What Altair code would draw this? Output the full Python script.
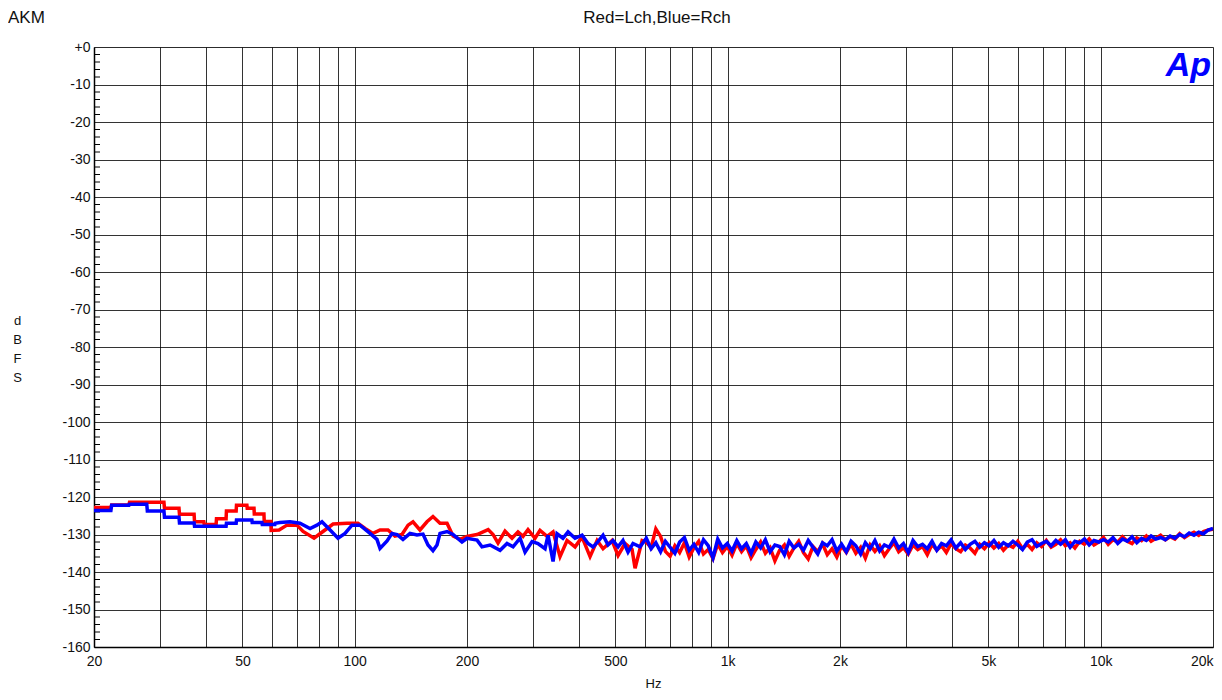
import altair as alt
import pandas as pd
import numpy as np

FONT = "Liberation Sans"

# ---------------- data ----------------
# Low-frequency part (read point by point), Hz / dBFS
red_lo_f = [20, 22.2, 22.3, 24.8, 24.9, 30.8, 30.9, 33.8, 33.9, 37.1, 37.2, 39.4, 39.5,
            42.5, 42.6, 45.2, 45.3, 48.1, 48.2, 51.4, 51.5, 53.7, 53.8, 57.1, 57.2, 59.6,
            59.7, 62.7, 65.8, 70.0, 72.7, 77.8, 82.2, 87.5, 95.4, 102, 106.6, 112, 116.9,
            122.8, 128.2, 133.9, 139.0, 143.3, 149.6, 156.2, 162.1, 169.3, 176.8, 183.5,
            191.5, 200, 212.8, 227.9, 234.9, 242.2, 252.9, 264.1, 274.0, 282.6, 291.5,
            304.4, 313.9, 327.8, 340.2, 355.2, 370.9, 389.7, 406.9, 427.5, 446.5, 463.2,
            489.7, 508.2, 530.6, 554.0, 564.4, 589.5]
red_lo_db = [-122.8, -122.8, -122.1, -122.1, -121.4, -121.4, -123.0, -123.0, -124.6, -124.6,
             -126.6, -126.6, -127.3, -127.3, -125.8, -125.8, -123.7, -123.7, -122.2, -122.2,
             -123.0, -123.0, -124.5, -124.5, -126.5, -126.5, -128.9, -128.8, -127.5, -127.5,
             -129.2, -131.0, -129.2, -127.2, -127.0, -127.0, -128.4, -129.7, -128.8, -128.8,
             -130.4, -130.0, -127.5, -126.6, -128.8, -126.6, -125.2, -127.0, -127.0, -130.4,
             -131.3, -130.5, -130.0, -128.7, -130.0, -132.3, -129.1, -131.0, -129.3, -130.5,
             -128.7, -131.0, -128.9, -130.5, -129.3, -135.9, -131.6, -133.3, -130.7, -135.9,
             -131.6, -133.8, -131.6, -135.6, -132.4, -134.0, -139.0, -131.6]

blue_lo_f = [20, 22.2, 22.3, 24.8, 24.9, 27.7, 27.8, 30.8, 30.9, 33.8, 33.9, 37.1, 37.2,
             45.2, 45.3, 48.1, 48.2, 53.0, 53.1, 56.4, 56.5, 61.1, 61.2, 63.0, 67.1, 71.3,
             75.9, 79.2, 81.7, 85.9, 90.2, 94.2, 98.3, 103.3, 109.9, 114.7, 116.9, 122.1,
             125.9, 129.8, 134.7, 140.7, 146.9, 152.4, 157.2, 162.1, 166.2, 169.3, 176.8,
             183.5, 193.9, 200, 212.8, 219.4, 230.6, 245.3, 256.1, 265.8, 277.5, 286.2,
             298.9, 310.0, 323.8, 329.9, 340.2, 348.6, 361.6, 373.2, 389.7, 406.9, 422.2,
             435.4, 449.0, 463.2, 477.6, 492.5, 508.2, 523.8, 540.4, 557.2, 582.0]
blue_lo_db = [-123.6, -123.6, -122.2, -122.2, -121.9, -121.9, -123.7, -123.7, -125.4, -125.4,
              -126.9, -126.9, -127.8, -127.8, -127.0, -127.0, -126.1, -126.1, -126.8, -126.8,
              -127.3, -127.3, -127.0, -126.8, -126.6, -127.0, -128.4, -127.5, -126.6, -128.8,
              -131.0, -129.7, -127.5, -127.5, -129.7, -131.3, -133.7, -131.7, -129.7, -130.0,
              -131.3, -129.7, -130.1, -129.9, -132.8, -134.3, -132.8, -129.7, -129.2, -130.0,
              -132.0, -131.0, -131.5, -133.3, -132.8, -134.2, -132.4, -133.3, -131.0, -134.7,
              -131.9, -132.4, -133.8, -130.2, -137.2, -129.8, -131.0, -129.3, -131.0, -130.2,
              -132.4, -133.3, -131.9, -130.2, -132.8, -131.6, -133.3, -131.6, -134.7, -132.4,
              -133.3]

# High-frequency part: values read across 605 Hz .. 20 kHz (log-spaced sampling)
red_hi_db = [-132.0, -133.5, -128.5, -130.5, -134.5, -135.8, -133.0, -134.8, -132.2, -136.0,
             -133.5, -131.8, -135.2, -134.0, -136.4, -132.5, -134.8, -133.2,
             -135.5, -132.4, -134.6, -133.0, -136.2, -134.0, -132.0, -135.0, -133.5, -137.0,
             -134.2, -132.8, -135.8, -133.6, -131.8, -134.8, -136.5, -133.2, -134.6, -132.5,
             -135.4, -133.8, -136.0, -133.0,
             -134.8, -132.6, -135.0, -133.4, -136.3, -132.8, -134.5, -133.0, -135.6, -133.8,
             -132.2, -134.6, -133.5, -135.2, -132.8, -134.0, -133.2, -135.4, -132.6, -134.2,
             -133.0, -134.8, -132.4, -133.8, -134.6, -132.8, -133.6, -135.0, -132.6, -133.8,
             -132.2,
             -133.6, -132.4, -134.2, -132.8, -133.4, -131.8, -133.8, -132.6, -134.0, -132.2,
             -133.2, -131.6, -133.4, -132.6, -131.4, -133.0, -132.2, -133.6, -131.8, -132.6,
             -131.2, -132.8, -132.0,
             -130.8, -132.6, -131.4, -132.0, -130.6, -131.8, -132.4, -130.9, -131.6, -130.4,
             -131.8, -131.0, -130.2, -131.4,
             -130.6, -131.2, -129.8, -130.8, -130.0, -129.4, -130.2, -129.2, -128.8, -128.6]
blue_hi_db = [-131.0, -133.8, -132.2, -134.6, -131.8, -133.4, -135.0, -132.0, -130.8, -134.2,
              -132.6, -134.8, -131.4, -133.0, -136.2, -131.2, -133.6, -132.4,
              -134.4, -131.6, -133.8, -132.4, -135.0, -132.0, -133.6, -131.4, -134.6, -132.8,
              -133.2, -135.4, -131.8, -133.6, -132.6, -134.2, -131.6, -133.4, -135.2, -132.2,
              -133.0, -131.4, -134.4, -132.6,
              -134.6, -131.8, -133.0, -135.2, -132.2, -133.8, -131.6, -134.4, -132.8, -133.4,
              -131.2, -133.6, -132.4, -134.8, -131.6, -133.2, -132.6, -133.8, -131.8, -134.2,
              -132.4, -133.0, -131.4, -133.6, -132.2, -134.0, -132.6, -131.8, -133.4, -132.2,
              -133.0,
              -131.6, -133.4, -132.2, -133.0, -131.8, -132.8, -134.0, -132.0, -131.4, -133.2,
              -132.4, -131.8, -133.0, -131.6, -132.6, -131.4, -133.4, -131.8, -132.2, -131.2,
              -132.8, -131.6, -132.0,
              -131.4, -132.0, -130.8, -132.4, -131.2, -131.8, -130.6, -132.2, -131.0, -131.6,
              -130.4, -131.2, -130.8, -131.4,
              -130.4, -131.0, -130.0, -130.6, -129.6, -130.2, -129.4, -129.8, -128.8, -128.4]
hi_f_start, hi_f_end = 605, 20000

grid_f = [20, 30, 40, 50, 60, 70, 80, 90, 100, 200, 300, 400, 500, 600, 700, 800, 900,
          1000, 2000, 3000, 4000, 5000, 6000, 7000, 8000, 9000, 10000, 20000]
label_f = [20, 50, 100, 200, 500, 1000, 2000, 5000, 10000, 20000]
y_ticks = [0, -10, -20, -30, -40, -50, -60, -70, -80, -90, -100, -110, -120, -130, -140,
           -150, -160]
minor_ticks = [v for v in range(-158, 0, 2) if v % 10 != 0]

title_left = ["AKM"]
title_mid = ["Red=Lch,Blue=Rch"]
logo = ["Ap"]
y_title = ["d", "B", "F", "S"]
x_title = "Hz"

# ---------------- frames ----------------
red_hi_f = np.geomspace(hi_f_start, hi_f_end, len(red_hi_db))
blue_hi_f = np.geomspace(hi_f_start, hi_f_end, len(blue_hi_db))
red_df = pd.DataFrame({"freq": list(red_lo_f) + list(red_hi_f),
                       "db": list(red_lo_db) + list(red_hi_db)})
blue_df = pd.DataFrame({"freq": list(blue_lo_f) + list(blue_hi_f),
                        "db": list(blue_lo_db) + list(blue_hi_db)})

label_list = ",".join(str(v) for v in label_f)
x_label_expr = ("indexof([" + label_list + "], datum.value) >= 0 ? "
                "(datum.value >= 1000 ? (datum.value / 1000) + 'k' : '' + datum.value) : ''")

x_scale = alt.Scale(type="log", domain=[20, 20000], nice=False)
y_scale = alt.Scale(domain=[-160, 0], nice=False, zero=False)

x_axis = alt.Axis(values=grid_f, labelExpr=x_label_expr, grid=True, gridColor="black",
                  gridOpacity=0.8, gridWidth=1, ticks=False, domain=True,
                  domainColor="black", domainWidth=1.5, labelFont=FONT, labelFontSize=14,
                  labelColor="#111", labelPadding=7, labelOverlap=False,
                  labelAlign={"condition": {"test": "datum.value >= 20000", "value": "right"},
                              "value": "center"},
                  title=x_title, titleFont=FONT, titleFontSize=13, titleFontWeight="normal",
                  titleColor="#111", titleX=559, titleY=36, titleAlign="center",
                  titleBaseline="middle")
y_axis = alt.Axis(values=y_ticks,
                  labelExpr="datum.value == 0 ? '+0' : '' + datum.value",
                  grid=True, gridColor="black", gridOpacity=0.8, gridWidth=1, ticks=False,
                  domain=True, domainColor="black", domainWidth=1.5, labelFont=FONT,
                  labelFontSize=14, labelColor="#111", labelPadding=4, labelOverlap=False,
                  title=y_title, titleAngle=0, titleFont=FONT, titleFontSize=13,
                  titleFontWeight="normal", titleColor="#111", titleX=-77, titleY=273,
                  titleAlign="center", titleBaseline="middle", titleLineHeight=19)

X = alt.X("freq:Q", scale=x_scale, axis=x_axis)
Y = alt.Y("db:Q", scale=y_scale, axis=y_axis)

red_line = alt.Chart(red_df).mark_line(color="#FF0000", strokeWidth=3.5, clip=True).encode(x=X, y=Y)
blue_line = alt.Chart(blue_df).mark_line(color="#0000FF", strokeWidth=3.5, clip=True).encode(x=X, y=Y)

minor = alt.Chart(pd.DataFrame({"db": minor_ticks})).mark_rule(
    color="black", strokeWidth=1).encode(y=Y, x=alt.value(0), x2=alt.value(6))

t_left = alt.Chart(pd.DataFrame({"t": title_left})).mark_text(
    font=FONT, fontSize=17, align="left", baseline="middle", color="#111").encode(
    x=alt.value(-86), y=alt.value(-29), text="t:N")
t_mid = alt.Chart(pd.DataFrame({"t": title_mid})).mark_text(
    font=FONT, fontSize=17, align="center", baseline="middle", color="#111").encode(
    x=alt.value(563), y=alt.value(-29), text="t:N")
t_logo = alt.Chart(pd.DataFrame({"t": logo})).mark_text(
    font=FONT, fontSize=34, fontStyle="italic", fontWeight="bold", align="right",
    baseline="alphabetic", color="#0000FF").encode(
    x=alt.value(1117), y=alt.value(29), text="t:N")

chart = alt.layer(minor, red_line, blue_line, t_left, t_mid, t_logo).properties(
    width=1119, height=600,
    autosize=alt.AutoSizeParams(type="none"),
    padding={"left": 86, "top": 39, "right": 1, "bottom": 45},
).configure_view(stroke="black", strokeWidth=1.5).configure(background="white")

chart.save("out.html", embed_options={"renderer": "svg", "actions": False})
